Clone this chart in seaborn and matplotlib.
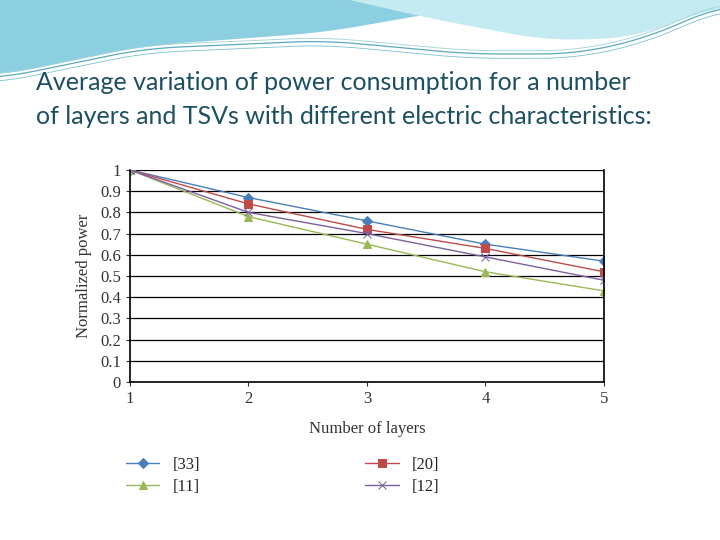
import numpy as np
import pandas as pd
import seaborn as sns
import matplotlib.pyplot as plt

# Data
layers = [1, 2, 3, 4, 5]
p33 = [1.0, 0.87, 0.76, 0.65, 0.57]
p20 = [1.0, 0.84, 0.72, 0.63, 0.52]
p11 = [1.0, 0.78, 0.65, 0.52, 0.43]
p12 = [1.0, 0.80, 0.70, 0.59, 0.48]

series = [("[33]", p33, "#4a7ebb", "D", 5),
          ("[20]", p20, "#be4b48", "s", 6),
          ("[11]", p11, "#98b954", "^", 6),
          ("[12]", p12, "#7d60a0", "x", 6)]

sns.set_style("white")
plt.rcParams['font.family'] = ['Liberation Serif', 'DejaVu Serif']

fig = plt.figure(figsize=(7.2, 5.4), dpi=100)


def smooth(xp, fp, xs, w=41):
    y = np.interp(xs, xp, fp)
    pad = np.pad(y, w // 2, mode="edge")
    return np.convolve(pad, np.ones(w) / w, mode="valid")


# slide decoration at the top (background art, not data)
bg = fig.add_axes([0, 0, 1, 1], zorder=-10)
bg.set_xlim(0, 1)
bg.set_ylim(0, 1)
bg.axis("off")
xs = np.linspace(0, 1, 400)
dark = smooth([0, 0.2, 0.45, 0.6, 0.72, 1], [0.86, 0.915, 0.94, 0.975, 1.0, 1.0], xs)
light = smooth([0, 0.42, 0.6, 0.76, 0.88, 1], [1.02, 1.02, 0.965, 0.925, 0.93, 0.99], xs)
bg.fill_between(xs, dark, 1, color="#8ccfe0", lw=0)
bg.fill_between(xs, light, 1, color="#c4ebf1", lw=0)
wave = smooth([0, 0.2, 0.45, 0.65, 0.8, 0.9, 1], [0.855, 0.91, 0.925, 0.9, 0.9, 0.93, 0.99], xs)
bg.plot(xs, wave, color="#5aaac0", lw=0.9)
bg.plot(xs, wave - 0.008, color="#7cc0d2", lw=0.6)
bg.plot(xs, wave + 0.006, color="#9fd3df", lw=0.6)

fig.text(0.05, 0.815, "Average variation of power consumption for a number\n"
         "of layers and TSVs with different electric characteristics:",
         fontsize=18, color="#1d4f63", family=["Lato", "DejaVu Sans"],
         va="center", ha="left", linespacing=1.58)

ax = fig.add_axes([0.1806, 0.2926, 0.658, 0.3926])
for name, vals, col, mk, ms in series:
    df = pd.DataFrame({"layers": layers, "power": vals})
    sns.lineplot(data=df, x="layers", y="power", ax=ax, color=col, marker=mk,
                 markersize=ms, lw=1, markeredgecolor=col, label=name)

ax.set_xlim(1, 5)
ax.set_ylim(0, 1)
ax.set_xticks(layers)
ax.set_yticks(np.round(np.arange(0, 1.01, 0.1), 1))
ax.set_yticklabels(["0", "0.1", "0.2", "0.3", "0.4", "0.5", "0.6", "0.7", "0.8", "0.9", "1"])
ax.yaxis.grid(True, color="black", lw=0.9)
ax.xaxis.grid(False)
for s in ["left", "bottom", "right"]:
    ax.spines[s].set_color("black")
    ax.spines[s].set_linewidth(1.2)
ax.spines["top"].set_visible(False)
ax.tick_params(axis="both", labelsize=12, colors="#333333", length=3,
               direction="out", bottom=True, left=True)
ax.set_xlabel("Number of layers", fontsize=12, color="#333333", labelpad=10)
ax.set_ylabel("Normalized power", fontsize=12, color="#333333", labelpad=6)

h, l = ax.get_legend_handles_labels()
order = [0, 2, 1, 3]
ax.legend([h[i] for i in order], [l[i] for i in order], ncol=2,
          loc="upper left", bbox_to_anchor=(-0.04, -0.284), frameon=False,
          fontsize=12, columnspacing=9.9, handlelength=2.0, labelspacing=0.35)

plt.savefig("out.png", dpi=100)
